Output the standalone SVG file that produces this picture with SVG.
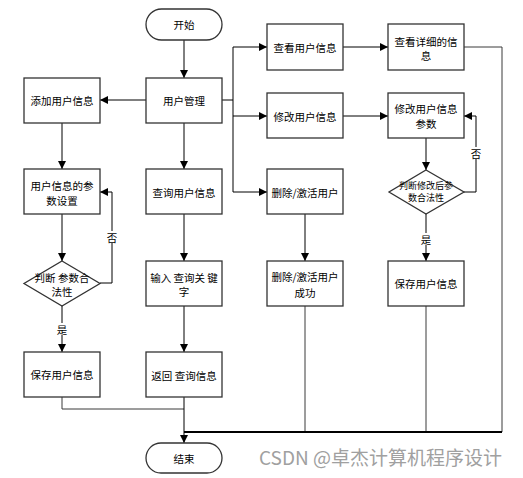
<svg xmlns="http://www.w3.org/2000/svg" width="523" height="478" viewBox="0 0 523 478">
<style>
.b{fill:#fff;stroke:#333;stroke-width:1.3}
.t{font-family:"Noto Sans CJK SC","Liberation Sans",sans-serif;font-size:10.5px;fill:#000;text-anchor:middle;dominant-baseline:central}
.s{font-size:9px}
.l{fill:none;stroke:#000;stroke-width:1}
.g{fill:none;stroke:#3a3a3a;stroke-width:1}
.bg{fill:#fff}
.w{font-family:"Noto Sans CJK SC","Liberation Sans",sans-serif;font-size:19px;fill:#a0a0a0}
</style>
<defs>
<marker id="a" viewBox="0 0 10 10" refX="10" refY="5" markerWidth="8" markerHeight="8" markerUnits="userSpaceOnUse" orient="auto">
<path d="M0,0L10,5L0,10z" fill="#000"/>
</marker>
</defs>
<g id="connectors">
<path class="l" d="M184,40V78" marker-end="url(#a)"/>
<path class="l" d="M146,100H100" marker-end="url(#a)"/>
<path class="l" d="M222,100H233"/>
<path class="l" d="M233,47V192"/>
<path class="l" d="M233,47H267" marker-end="url(#a)"/>
<path class="l" d="M233,116H267" marker-end="url(#a)"/>
<path class="l" d="M233,192H267" marker-end="url(#a)"/>
<path class="l" d="M343,47H388" marker-end="url(#a)"/>
<path class="l" d="M343,116H388" marker-end="url(#a)"/>
<path class="l" d="M62,123V169" marker-end="url(#a)"/>
<path class="l" d="M62,214V261" marker-end="url(#a)"/>
<path class="l" d="M100,283H112V192H100" marker-end="url(#a)"/>
<path class="l" d="M62,306V352" marker-end="url(#a)"/>
<path class="g" d="M62,397V409H184"/>
<path class="l" d="M184,123V169" marker-end="url(#a)"/>
<path class="l" d="M184,214V261" marker-end="url(#a)"/>
<path class="l" d="M184,306V352" marker-end="url(#a)"/>
<path class="l" d="M184,397V443" marker-end="url(#a)"/>
<path class="l" d="M305,214V261" marker-end="url(#a)"/>
<path class="l" d="M426,138V170" marker-end="url(#a)"/>
<path class="l" d="M464,192H476V116H464" marker-end="url(#a)"/>
<path class="l" d="M426,214V261" marker-end="url(#a)"/>
<path class="g" d="M305,306V432"/>
<path class="g" d="M426,306V432"/>
<path class="g" d="M464,47H502V432"/>
<path class="l" d="M184,432H502" style="stroke-width:1.8"/>
<rect class="bg" x="106" y="231" width="12" height="12"/><text class="t" x="112" y="237">否</text>
<rect class="bg" x="56" y="323" width="12" height="12"/><text class="t" x="62" y="329">是</text>
<rect class="bg" x="470" y="147" width="12" height="12"/><text class="t" x="476" y="153">否</text>
<rect class="bg" x="420" y="233" width="12" height="12"/><text class="t" x="426" y="239">是</text>
</g>
<g id="start"><rect class="b" x="146" y="9" width="76" height="31" rx="15.5"/><text class="t" x="184" y="24.5">开始</text></g>
<g id="manage"><rect class="b" x="146" y="78" width="76" height="45"/><text class="t" x="184" y="100.5">用户管理</text></g>
<g id="add"><rect class="b" x="24" y="78" width="76" height="45"/><text class="t" x="62" y="100.5">添加用户信息</text></g>
<g id="param"><rect class="b" x="24" y="169" width="76" height="45"/><text class="t" x="62" y="185">用户信息的参</text><text class="t" x="62" y="200">数设置</text></g>
<g id="check1"><path class="b" d="M62,261L100,283.5L62,306L24,283.5z"/><text class="t" x="62" y="277">判断 参数合</text><text class="t" x="62" y="291">法性</text></g>
<g id="save1"><rect class="b" x="24" y="352" width="76" height="45"/><text class="t" x="62" y="374.5">保存用户信息</text></g>
<g id="query"><rect class="b" x="146" y="169" width="76" height="45"/><text class="t" x="184" y="192">查询用户信息</text></g>
<g id="input"><rect class="b" x="146" y="261" width="76" height="45"/><text class="t" x="184" y="277">输入 查询关 键</text><text class="t" x="184" y="291">字</text></g>
<g id="return"><rect class="b" x="146" y="352" width="76" height="45"/><text class="t" x="184" y="375">返回 查询信息</text></g>
<g id="end"><rect class="b" x="146" y="443" width="76" height="30" rx="15"/><text class="t" x="184" y="458">结束</text></g>
<g id="view"><rect class="b" x="267" y="24" width="76" height="46"/><text class="t" x="305" y="47">查看用户信息</text></g>
<g id="detail"><rect class="b" x="388" y="24" width="76" height="46"/><text class="t" x="426" y="41">查看详细的信</text><text class="t" x="426" y="55">息</text></g>
<g id="modify"><rect class="b" x="267" y="93" width="76" height="45"/><text class="t" x="305" y="116">修改用户信息</text></g>
<g id="modparam"><rect class="b" x="388" y="93" width="76" height="45"/><text class="t" x="426" y="108">修改用户信息</text><text class="t" x="426" y="123">参数</text></g>
<g id="check2"><path class="b" d="M426,170L464,192L426,214L389,192z"/><text class="t s" x="426" y="185">判断修改后参</text><text class="t s" x="426" y="197.5">数合法性</text></g>
<g id="save2"><rect class="b" x="388" y="261" width="76" height="45"/><text class="t" x="426" y="283.5">保存用户信息</text></g>
<g id="delete"><rect class="b" x="267" y="169" width="76" height="45"/><text class="t" x="305" y="192">删除/激活用户</text></g>
<g id="delok"><rect class="b" x="267" y="261" width="76" height="45"/><text class="t" x="305" y="276">删除/激活用户</text><text class="t" x="305" y="292">成功</text></g>
<text class="w" x="259" y="465">CSDN @卓杰计算机程序设计</text>
</svg>
